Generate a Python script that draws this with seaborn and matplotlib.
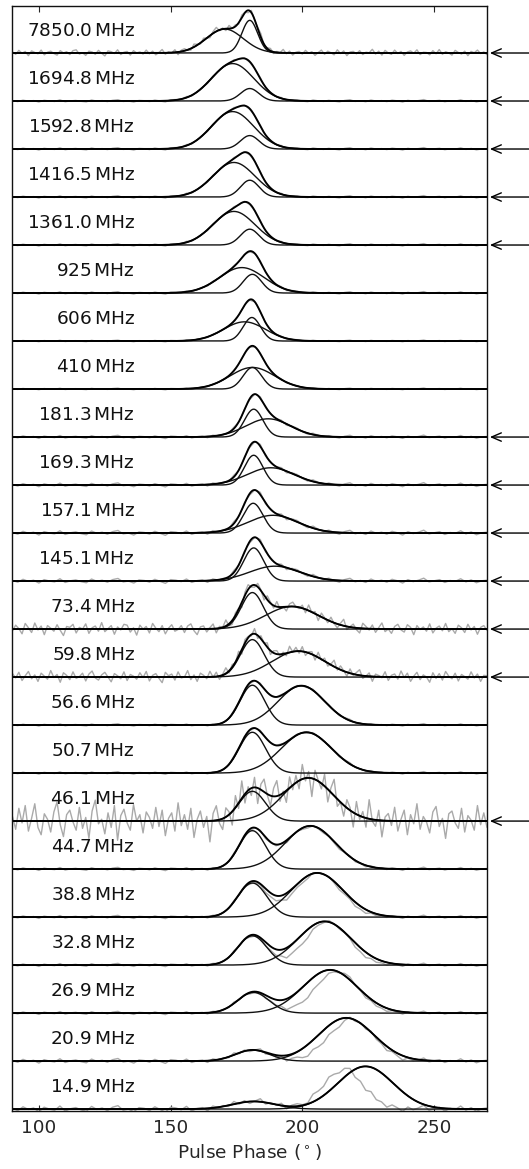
import numpy as np
import pandas as pd
import seaborn as sns
import matplotlib.pyplot as plt

# panel labels, top to bottom
labels = ['7850.0', '1694.8', '1592.8', '1416.5', '1361.0', '925', '606', '410',
          '181.3', '169.3', '157.1', '145.1', '73.4', '59.8', '56.6', '50.7',
          '46.1', '44.7', '38.8', '32.8', '26.9', '20.9', '14.9']

# fitted component near 180 deg (amplitude, centre, width)
a_amp = [0.68, 0.26, 0.28, 0.35, 0.33, 0.39, 0.49, 0.45, 0.58, 0.62, 0.62, 0.69,
         0.76, 0.78, 0.83, 0.85, 0.62, 0.80, 0.71, 0.61, 0.43, 0.23, 0.16]
a_cen = [180.0, 180.0, 180.0, 180.0, 180.0, 181.0, 180.8, 181.0, 181.5, 181.5, 181.3, 181.5,
         181.0, 181.0, 181.0, 181.0, 181.0, 181.0, 181.0, 181.0, 181.4, 181.0, 181.5]
a_sig = [3.0, 3.5, 3.5, 3.5, 3.5, 3.5, 3.3, 3.5, 3.5, 3.5, 3.7, 3.8,
         4.2, 4.5, 4.7, 5.0, 5.0, 5.0, 5.5, 5.5, 6.0, 6.5, 8.0]

# fitted second component (drifts with frequency)
b_amp = [0.50, 0.78, 0.78, 0.72, 0.70, 0.53, 0.40, 0.45, 0.38, 0.36, 0.37, 0.31,
         0.47, 0.54, 0.82, 0.85, 0.90, 0.90, 0.92, 0.91, 0.90, 0.90, 0.89]
b_cen = [170.5, 173.5, 173.5, 174.0, 174.0, 177.0, 178.0, 181.0, 187.0, 188.0, 188.8, 189.5,
         196.0, 198.5, 199.6, 201.5, 202.2, 203.0, 205.6, 208.4, 210.5, 216.6, 223.9]
b_sig = [7.0, 8.0, 8.0, 8.0, 8.0, 8.5, 8.0, 8.5, 8.5, 9.0, 9.5, 9.5,
         10.0, 10.0, 8.8, 9.5, 9.5, 9.5, 9.8, 10.0, 10.3, 10.5, 10.5]

# observed profile (grey), second component as seen in the data
obs_b_amp = [0.50, 0.78, 0.78, 0.72, 0.70, 0.53, 0.40, 0.45, 0.38, 0.36, 0.37, 0.31,
             0.47, 0.54, 0.82, 0.85, 0.90, 0.88, 0.92, 0.91, 0.87, 0.86, 0.82]
obs_b_cen = [170.5, 173.5, 173.5, 174.0, 174.0, 177.0, 178.0, 181.0, 187.0, 188.0, 188.8, 189.5,
             196.0, 198.5, 199.6, 201.5, 202.2, 203.0, 206.0, 209.5, 213.0, 218.5, 215.5]
obs_b_sig = [7.0, 8.0, 8.0, 8.0, 8.0, 8.5, 8.0, 8.5, 8.5, 9.0, 9.5, 9.5,
             10.0, 10.0, 8.8, 9.5, 9.5, 9.3, 8.5, 8.0, 8.0, 8.5, 7.5]

# baseline noise of the observed profiles (tenths)
noise_7850 = [4, -5, 10, -1, 6, -10, 8, 2, -3, 11, -7, 3, 7, -2, -8,
              9, 0, 5, -6, 9, 12, -4, 1, -9, 7, 4, -5, 10, -1, -11,
              8, 5, -2, 12, -6, 3, 6, -8, 9, 0, 4, -4, 11, -3, 7,
              -7, 2, 13, -5, 4, -1, 10, -10, 5, 8, -2, -6, 11, 3, -4,
              9, 0, -8, 7, 15, -3, 4, -7, 12, -1, 6, -5, 10, 2, -9,
              8, -2, 5, 14, -4, 3, 9, -6, 4, 0, 13, -3, 7, -8, 3,
              6, -4, 10, -1, 5, -9, 2, 11, -5, 7, 1, -7, 12, -2, 8,
              -10, 4, 6, -3, 9, -6, 3, 1, 14, -4, 7, -8, 10, 0, -5,
              11, -2, 6, -9, 4, 8, -1, 12, -6, 3, 2, -7, 9, -3, 13,
              -5, 5, 0, -8, 10, 2, -4, 7, -10, 6, 1, 11, -2, 4, -6]
noise_734 = [-4, 9, 1, -11, 13, 3, -8, 14, -2, 7, -13, 8, 2, -5, 10,
             -3, -15, 6, 4, 11, -9, 4, 0, 12, -10, 3, 7, -5, 15, -6,
             1, 8, -12, 5, -2, 11, 9, -7, 3, -14, 9, 0, 6, -9, 13,
             2, -6, 8, -11, 2, 10, -5, -1, 8, -8, 7, 12, -4, -13, 5,
             7, -7, 3, 11, -10, 4, 0, 14, -5, -9, 6, 2, -12, 7, 11,
             -3, -5, 8, 2, -11, 9, 3, -6, 12, -4, 1, -10, 6, 10, 0,
             -3, 7, -8, 13, -1, 5, -12, 9, 2, -6, 10, -2, -9, 4, 15,
             -7, 1, 8, -4, -11, 12, 5, -3, 9, -8, 3, 14, -6, 0, -10,
             6, 11, -2, -7, 10, 4, -13, 8, -1, 5, -5, 12, -9, 2, 7,
             -4, 13, -6, 1, -10, 9, 3, -8, 11, -2, 6, -12, 4, 8, -3]
noise_598 = [8, -2, 11, -8, 3, 13, -4, 5, -10, 9, 2, -5, 15, -1, 6,
             -12, 10, 4, -6, 12, -3, 1, 9, -9, 7, 14, -2, -7, 5, 11,
             0, -11, 8, 3, -4, 12, -8, 6, 2, -5, 10, -1, 13, -9, 4,
             8, -3, -13, 11, 3, 7, -7, 12, -2, 0, 15, -6, 5, -10, 9,
             4, -4, 13, -1, 10, -8, 2, 13, -5, 6, -2, 11, -11, 8, 3,
             -3, 12, -7, 7, 0, 10, -9, 5, 8, -4, 4, -6, 14, -1, 9,
             -5, 11, -8, 3, 6, -10, 12, -2, 7, -7, 2, 15, -4, 9, 1,
             -9, 10, -3, 5, 13, -6, 0, 8, -11, 6, 3, -2, 12, -8, 4,
             7, -5, 14, -1, 9, -10, 2, 11, -6, 5, 0, -12, 10, -3, 8,
             -7, 13, 2, -4, 9, -9, 6, 1, -5, 12, -2, 7, -10, 4, 3]
noise_461 = [5, -9, 14, -2, 17, -11, 3, 19, -7, -15, 8, 2, -12, 10, 21,
             -4, -17, 7, 12, -1, -10, 15, -8, 4, -19, 11, 23, -3, 2, -14,
             9, -7, 17, -21, 6, 13, -2, -10, 18, 0, 7, -13, 10, 4, -8,
             15, -6, 12, -16, 3, 9, -11, 20, -5, 7, -9, 14, -18, 2, 11,
             -7, 5, -23, 8, 16, -4, -12, 10, 3, -15, 13, -6, 19, -10, 4,
             -8, 11, -17, 6, 14, -1, -11, 9, 17, -7, 2, -13, 12, -5, 8,
             -9, 16, -3, 7, -20, 10, 1, -6, 13, -14, 5, 18, -8, 0, -12,
             9, 3, -16, 14, -4, 6, -10, 21, -2, -7, 11, -18, 4, 8, -5,
             15, -11, 2, 12, -15, 7, -3, 19, -9, 5, -1, -13, 10, 16, -6,
             3, -19, 8, 11, -2, -8, 14, -12, 6, 1, -10, 17, -4, 9, -7]
noise_quiet = [2, -4, 6, -1, 3, -7, 5, 0, -3, 8, -5, 1, 4, -2, -6, 7, -1, 3, -4, 5, 9, -3, 0, -7, 4, 2, -4, 6,
               -1, -8, 5, 3, -2, 7, -5, 1, 3, -6, 5, -1, 2, -3, 7, -3, 4, -5, 1, 8, -4, 2, -1, 6, -7, 3, 5, -2,
               -5, 7, 1, -3, 5, -1, -6, 4, 9, -3, 2, -5, 7, -1, 3, -4, 6, 1, -7, 5, -2, 3, 10, -3, 1, 5, -5, 2,
               -1, 8, -3, 4, -6, 1, 3]

noise_src = ['7850', 'q', 'q', 'q', 'q', 'q', 'q', 'q', 'q', 'q', 'q', 'q',
             '734', '598', 'q', 'q', '461', 'q', 'q', 'q', 'q', 'q', 'q']
noise_lvl = [0.055, 0.03, 0.03, 0.03, 0.03, 0.03, 0.02, 0.02, 0.04, 0.05, 0.06, 0.06,
             0.09, 0.09, 0.03, 0.03, 0.19, 0.04, 0.04, 0.04, 0.04, 0.06, 0.08]

# panels marked with an arrow on the right
has_arrow = [True, True, True, True, True, False, False, False,
             True, True, True, True, True, True, False, False,
             True, False, False, False, False, False, False]

noise_lists = {'7850': noise_7850, '734': noise_734, '598': noise_598,
               '461': noise_461, 'q': noise_quiet}


def gauss(x, amp, cen, sig):
    return amp * np.exp(-0.5 * ((x - cen) / sig) ** 2)


n = len(labels)
phase = np.linspace(90, 270, 721)

obs_rows, comp_rows, sum_rows = [], [], []
for i in range(n):
    off = n - 1 - i
    nz = np.array(noise_lists[noise_src[i]]) / 10.0
    xg = np.linspace(90, 270, len(nz))
    yg = (off + gauss(xg, a_amp[i], a_cen[i], a_sig[i])
          + gauss(xg, obs_b_amp[i], obs_b_cen[i], obs_b_sig[i]) + noise_lvl[i] * nz)
    obs_rows.append(pd.DataFrame({'phase': xg, 'y': yg, 'unit': i}))
    ca = gauss(phase, a_amp[i], a_cen[i], a_sig[i])
    cb = gauss(phase, b_amp[i], b_cen[i], b_sig[i])
    comp_rows.append(pd.DataFrame({'phase': phase, 'y': off + ca, 'unit': 2 * i}))
    comp_rows.append(pd.DataFrame({'phase': phase, 'y': off + cb, 'unit': 2 * i + 1}))
    sum_rows.append(pd.DataFrame({'phase': phase, 'y': off + ca + cb, 'unit': i}))

obs_df = pd.concat(obs_rows)
comp_df = pd.concat(comp_rows)
sum_df = pd.concat(sum_rows)

sns.set_style('ticks')
plt.rcParams['font.family'] = ['DejaVu Sans']

fig = plt.figure(figsize=(5.29, 11.69), dpi=100)
ax = fig.add_axes([0.0236, 0.0496, 0.8970, 0.9453])

sns.lineplot(data=obs_df, x='phase', y='y', units='unit', estimator=None,
             color='#aaaaaa', lw=1.0, ax=ax)
sns.lineplot(data=comp_df, x='phase', y='y', units='unit', estimator=None,
             color='#111111', lw=1.0, ax=ax)
sns.lineplot(data=sum_df, x='phase', y='y', units='unit', estimator=None,
             color='#000000', lw=1.35, ax=ax)

for i in range(n):
    off = n - 1 - i
    ax.text(136.5, off + 0.36, labels[i] + r'$\,$MHz', ha='right', va='baseline',
            fontsize=13.3, color='#111111')
    if has_arrow[i]:
        ax.annotate('', xy=(1.006, off), xycoords=ax.get_yaxis_transform(),
                    xytext=(1.09, off), textcoords=ax.get_yaxis_transform(),
                    arrowprops=dict(arrowstyle='->,head_length=0.7,head_width=0.3',
                                    color='k', lw=1.0, shrinkA=0, shrinkB=0),
                    annotation_clip=False)

ax.set_xlim(90, 270)
ax.set_ylim(-0.04, n - 0.02)
ax.set_xticks([100, 150, 200, 250])
ax.set_yticks([])
ax.tick_params(axis='x', direction='in', top=True, length=4.5, width=0.8,
               labelsize=13.3, pad=6)
ax.set_xlabel(r'Pulse Phase ($^\circ$)', fontsize=13.3, labelpad=3)
ax.set_ylabel('')
for s in ax.spines.values():
    s.set_linewidth(1.0)
    s.set_color('#111111')

fig.savefig('out.png', dpi=100)
